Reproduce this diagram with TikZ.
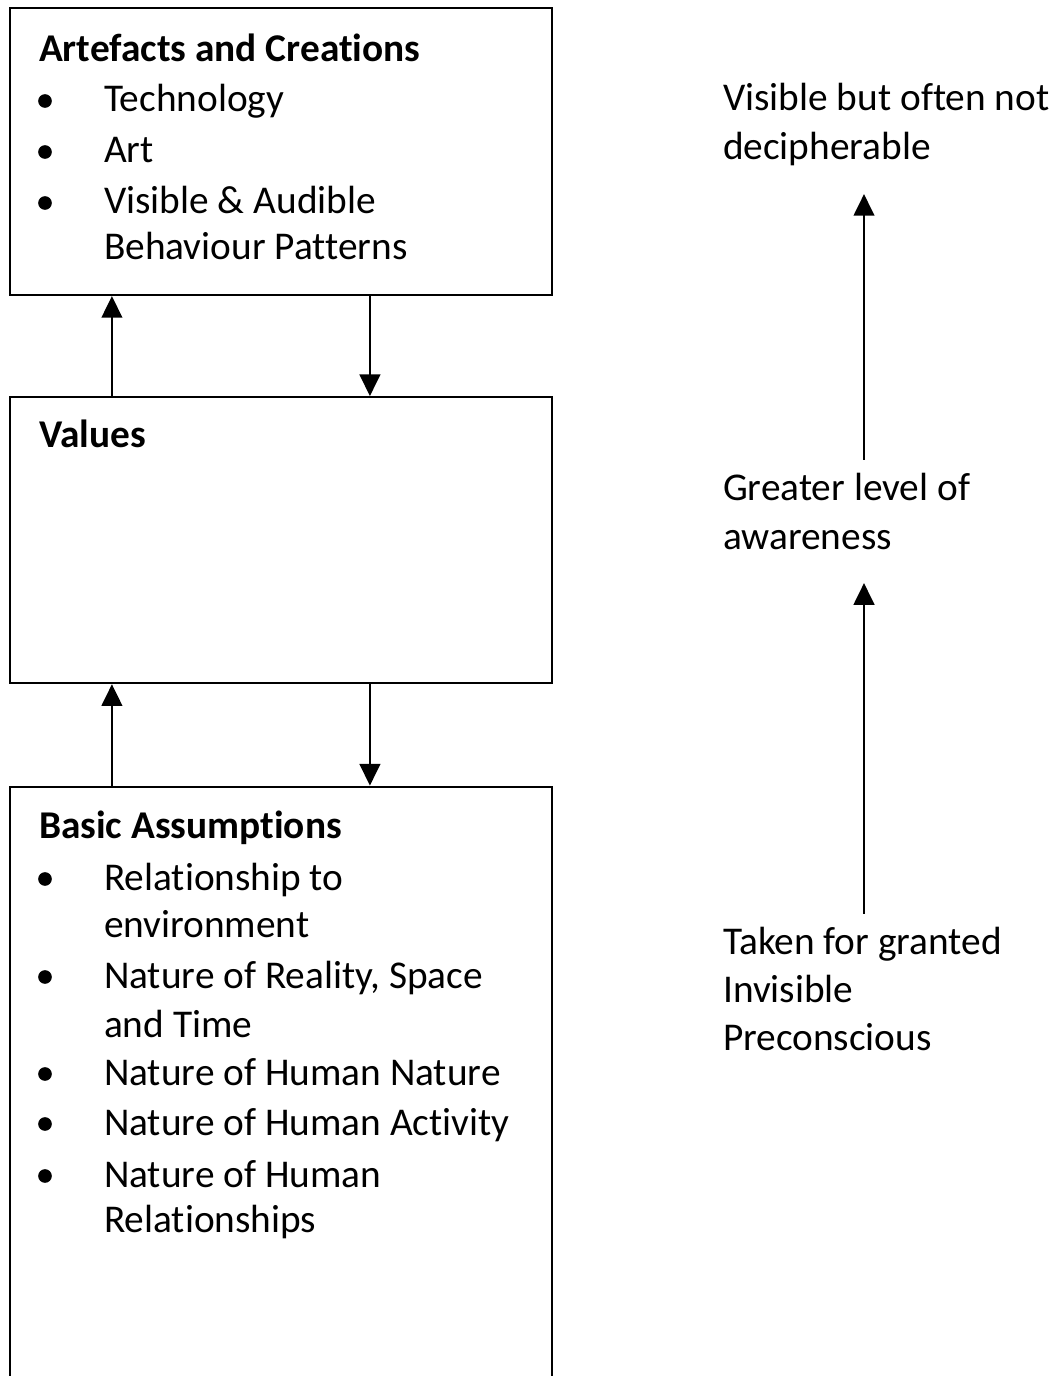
\documentclass[tikz,border=0pt]{standalone}
\usepackage{fontspec}
\setmainfont{Carlito}[Ligatures=NoCommon]
\usetikzlibrary{arrows.meta,positioning}

\begin{document}
\begin{tikzpicture}[x=0.3pt,y=-0.3pt,>={Triangle[length=6.5pt,width=6.2pt]},
        line width=0.65pt,
        box/.style={draw,minimum width=162.6pt,inner sep=0pt},
        head/.style={anchor=base west,inner sep=0pt,font=\fontsize{11.8}{14}\selectfont\bfseries},
        item/.style={anchor=base west,inner sep=0pt,text height=8.3pt,text depth=2.9pt,
                     font=\fontsize{11.8}{14}\selectfont},
        dot/.style={circle,fill,inner sep=0pt,minimum size=4.1pt},
        rise/.style={->,shorten <=3.5pt,shorten >=7pt}]
    \clip (0,0) rectangle (1057,1376);
    % the three layers
    \node[box,minimum height=86.1pt] (artefacts) at (281,151.5) {};
    \node[box,minimum height=85.8pt] (values) [below=30pt of artefacts] {};
    \node[box,minimum height=190pt] (assumptions) [below=30.4pt of values] {};
    \draw[->] ([xshift=30.9pt]values.north west) -- ([xshift=30.9pt]artefacts.south west);
    \draw[->] ([xshift=108.3pt]artefacts.south west) -- ([xshift=108.3pt]values.north west);
    \draw[->] ([xshift=30.9pt]assumptions.north west) -- ([xshift=30.9pt]values.south west);
    \draw[->] ([xshift=108.3pt]values.south west) -- ([xshift=108.3pt]assumptions.north west);
    % artefacts
    \node[head] (h1) at (38,62) {Artefacts and Creations};
    \node[dot] (d1) at (45,101) {};
    \node[item] (t1) at (103,112) {Technology};
    \node[dot] (d2) at (45,152) {};
    \node[item] (t2) at (103,163) {Art};
    \node[dot] (d3) at (45,203) {};
    \node[item] (t3) at (103,214) {Visible \& Audible};
    \node[item] (t3b) at (103,260) {Behaviour Patterns};
    % values
    \node[head] (h2) at (38,447) {Values};
    % basic assumptions
    \node[head] (h3) at (38,838) {Basic Assumptions};
    \node[dot] (d4) at (45,879) {};
    \node[item] (a1) at (103,890) {Relationship to};
    \node[item] (a1b) at (103,937) {environment};
    \node[dot] (d5) at (45,977) {};
    \node[item] (a2) at (103,988) {Nature of Reality, Space};
    \node[item] (a2b) at (103,1037) {and Time};
    \node[dot] (d6) at (45,1074) {};
    \node[item] (a3) at (103,1085) {Nature of Human Nature};
    \node[dot] (d7) at (45,1124) {};
    \node[item] (a4) at (103,1135) {Nature of Human Activity};
    \node[dot] (d8) at (45,1176) {};
    \node[item] (a5) at (103,1187) {Nature of Human};
    \node[item] (a5b) at (103,1232) {Relationships};
    % levels of awareness
    \node[item] (r1) at (722,111) {Visible but often not};
    \node[item] (r1b) at (722,160) {decipherable};
    \node[item] (r2) at (722,500) {Greater level of};
    \node[item] (r2b) at (722,549) {awareness};
    \node[item] (r3) at (722,954) {Taken for granted};
    \node[item] (r3b) at (722,1002) {Invisible};
    \node[item] (r3c) at (722,1050) {Preconscious};
    \draw[rise] (r2.north -| 864,0) -- (r1b.south -| 864,0);
    \draw[rise] (r3.north -| 864,0) -- (r2b.south -| 864,0);
\end{tikzpicture}
\end{document}
